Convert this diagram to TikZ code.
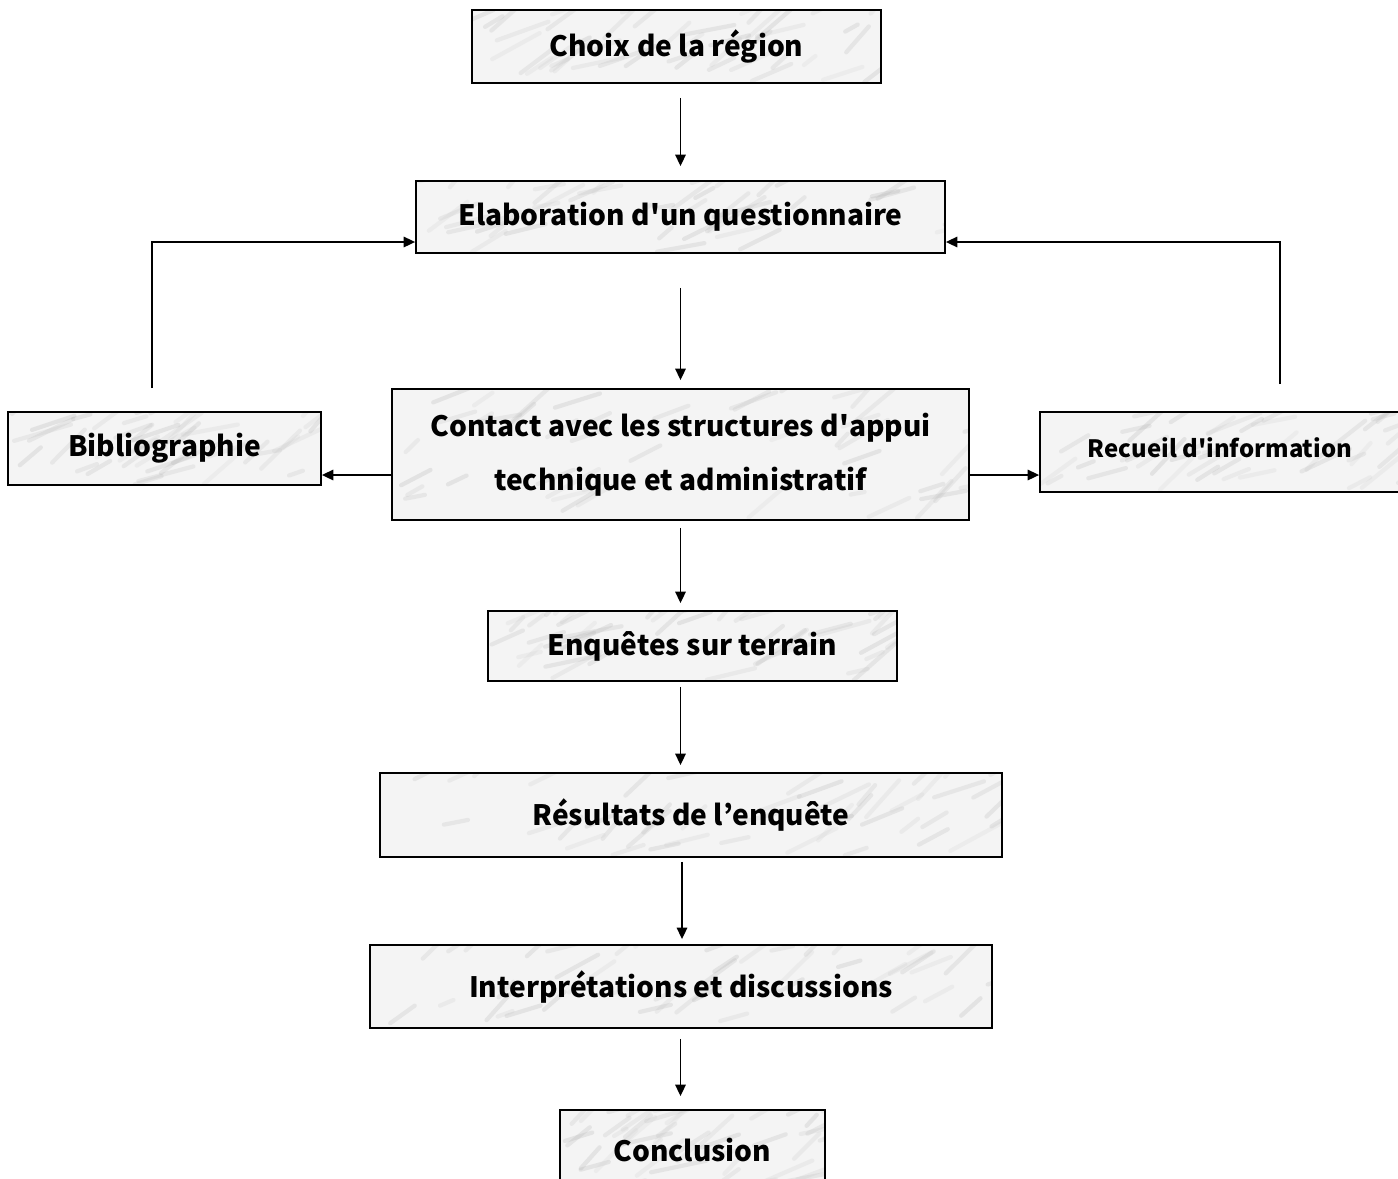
\documentclass[tikz,border=0pt]{standalone}
\usepackage{fontspec}
\newfontfamily\gothic{Noto Sans CJK JP}
\usetikzlibrary{arrows.meta,calc}

\tikzset{
  marble/.style={path picture={
      \foreach \k in {1,...,45}{
        \pgfmathsetmacro\u{rnd}\pgfmathsetmacro\v{rnd}\pgfmathsetmacro\a{10+40*rnd}
        \pgfmathsetmacro\l{8+26*rnd}\pgfmathsetmacro\g{35+35*rnd}
        \draw[gray!\g, line width=2.4pt, opacity=.22, line cap=round]
          let \p1=(path picture bounding box.south west), \p2=(path picture bounding box.north east)
          in ({\x1+\u*(\x2-\x1)},{\y1+\v*(\y2-\y1)}) -- ++(\a:\l pt);
      }}},
  stepbox/.style={draw, line width=1.1pt, fill=gray!9, marble, inner sep=0pt,
    font=\gothic\fontsize{16}{19}\selectfont\bfseries, align=center},
  arr/.style={line width=0.8pt, -{Triangle[length=6.5pt,width=6pt]}}
}

\begin{document}
\begin{tikzpicture}[x=0.02cm, y=-0.02cm]
        \pgfmathsetseed{11}
        \useasboundingbox (0,0) rectangle (1398,1178);

        % Boxes
        \node[stepbox, minimum width=8.18cm, minimum height=1.46cm] (choix) at (676.5,46.5) {Choix de la région};
        \node[stepbox, minimum width=10.58cm, minimum height=1.44cm] (elab) at (680.5,217) {Elaboration d'un questionnaire};
        \node[stepbox, minimum width=11.54cm, minimum height=2.62cm,
              font=\gothic\fontsize{16}{31}\selectfont\bfseries] (contact) at (680.5,454.5)
              {Contact avec les structures d'appui\\technique et administratif};
        \node[stepbox, minimum width=6.26cm, minimum height=1.46cm] (biblio) at (164.5,448.5) {Bibliographie};
        \node[stepbox, minimum width=7.4cm, minimum height=1.6cm,
              font=\gothic\fontsize{13.6}{16}\selectfont\bfseries] (recueil) at (1225,452)
              {\hspace*{-0.2cm}\raisebox{0.18cm}{Recueil d'information}};
        \node[stepbox, minimum width=8.18cm, minimum height=1.4cm] (enq) at (692.5,646) {Enquêtes sur terrain};
        \node[stepbox, minimum width=12.44cm, minimum height=1.68cm] (res) at (691,815) {Résultats de l’enquête};
        \node[stepbox, minimum width=12.44cm, minimum height=1.66cm] (interp) at (681,986.5) {Interprétations et discussions};
        \node[stepbox, minimum width=5.3cm, minimum height=1.6cm] (concl) at (692.5,1150) {Conclusion};

        % Main flow
        \draw[arr, shorten <=0.28cm, shorten >=0.28cm] (choix.south -| contact) -- (elab.north -| contact);
        \draw[arr, shorten <=0.68cm, shorten >=0.16cm] (elab.south) -- (contact.north);
        \draw[arr, shorten <=0.14cm, shorten >=0.14cm] (contact.south) -- (enq.north -| contact);
        \draw[arr, shorten <=0.1cm, shorten >=0.14cm] (enq.south -| contact) -- (res.north -| contact);
        \draw[arr, shorten <=0.08cm, shorten >=0.1cm] ([xshift=0.03cm]res.south -| contact) -- ([xshift=0.03cm]interp.north -| contact);
        \draw[arr, shorten <=0.2cm, shorten >=0.26cm] (interp.south -| contact) -- (concl.north -| contact);

        % Side branches
        \coordinate (cl) at ([yshift=-0.41cm]contact.west);
        \coordinate (cr) at ([yshift=-0.41cm]contact.east);
        \draw[arr] (cl) -- (cl -| biblio.east);
        \draw[arr] (cr) -- (cr -| recueil.west);

        % Back to the questionnaire
        \coordinate (el) at ([yshift=-0.5cm]elab.west);
        \coordinate (er) at ([yshift=-0.5cm]elab.east);
        \draw[arr] ([xshift=-0.25cm,yshift=0.46cm]biblio.north) |- (el);
        \draw[arr] ([xshift=1.1cm,yshift=0.54cm]recueil.north) |- (er);
\end{tikzpicture}
\end{document}
